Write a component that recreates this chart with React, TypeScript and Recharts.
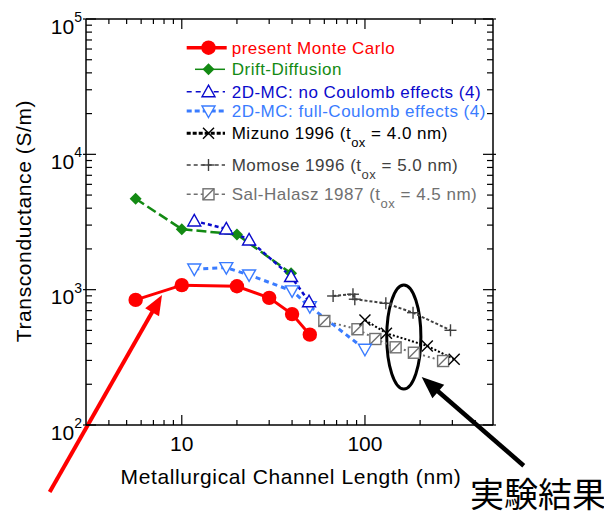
import React from 'react';
import { LineChart, Line, XAxis, YAxis, ReferenceLine, ReferenceArea, Customized } from 'recharts';

const FONT = '"Liberation Sans", Arial, Helvetica, sans-serif';

// ---- data (channel length in nm, transconductance in S/m) ----
const mcL = [5.6, 10, 20, 30, 40, 50];
const mcG = [840, 1080, 1060, 870, 660, 465];
const ddL = [5.6, 10, 20, 39.5];
const ddG = [4700, 2800, 2560, 1320];
const noCoulL = [11.7, 17.5, 23.3, 39.5, 49.5];
const noCoulG = [3220, 2810, 2330, 1250, 815];
const fullCoulL = [11.7, 17.5, 23.3, 40, 50, 100];
const fullCoulG = [1420, 1455, 1285, 980, 750, 363];
const mizunoL = [100, 131, 219, 307];
const mizunoG = [597, 476, 384, 306];
const momoseL = [67, 86, 88, 130, 183, 293];
const momoseG = [898, 925, 850, 793, 676, 501];
const salL = [60, 91, 114, 147, 185, 267];
const salG = [587, 510, 432, 375, 342, 297];

const seriesNames = [
  'present Monte Carlo',
  'Drift-Diffusion',
  '2D-MC: no Coulomb effects (4)',
  '2D-MC: full-Coulomb effects (4)',
  'Mizuno 1996 (t_ox = 4.0 nm)',
  'Momose 1996 (t_ox = 5.0 nm)',
  'Sal-Halasz 1987 (t_ox = 4.5 nm)',
];

// ---- ticks ----
const xTicks = [4, 5, 6, 7, 8, 9, 10, 20, 30, 40, 50, 60, 70, 80, 90, 100, 200, 300, 400];
const xMajor = [10, 100];
const xLabels = ['10', '100'];
const yTicks = [
  100, 200, 300, 400, 500, 600, 700, 800, 900,
  1000, 2000, 3000, 4000, 5000, 6000, 7000, 8000, 9000,
  10000, 20000, 30000, 40000, 50000, 60000, 70000, 80000, 90000, 100000,
];
const yMajor = [100, 1000, 10000, 100000];
const yExp = ['2', '3', '4', '5'];

const xTitle = 'Metallurgical Channel Length (nm)';
const yTitle = 'Transconductance (S/m)';
const noteText = '実験結果';

// annotation anchors in data coordinates
const redArrow = [{ x: 1.9, y: 32 }, { x: 7.8, y: 914 }];
const blackArrow = [{ x: 736, y: 50 }, { x: 204, y: 226 }];
const ellipseBox = { x1: 131.5, x2: 202, y1: 184.5, y2: 1083 };

const zip = (xs: number[], ys: number[]) => xs.map((x, i) => ({ x, y: ys[i] }));

type MK = 'circle' | 'diamond' | 'triUp' | 'triDown' | 'cross' | 'plus' | 'box';

function Marker({ kind, cx, cy, color }: { kind: MK; cx: number; cy: number; color: string }) {
  switch (kind) {
    case 'circle':
      return <circle cx={cx} cy={cy} r={7.2} fill={color} />;
    case 'diamond':
      return <polygon points={`${cx},${cy - 6} ${cx + 6},${cy} ${cx},${cy + 6} ${cx - 6},${cy}`} fill={color} />;
    case 'triUp':
      return <polygon points={`${cx},${cy - 6.5} ${cx + 6.5},${cy + 5} ${cx - 6.5},${cy + 5}`} fill="#fff" stroke={color} strokeWidth={1.4} />;
    case 'triDown':
      return <polygon points={`${cx},${cy + 6.5} ${cx + 6.5},${cy - 5} ${cx - 6.5},${cy - 5}`} fill="#fff" stroke={color} strokeWidth={1.4} />;
    case 'cross':
      return (
        <g stroke={color} strokeWidth={1.4}>
          <line x1={cx - 5.5} y1={cy - 5.5} x2={cx + 5.5} y2={cy + 5.5} />
          <line x1={cx - 5.5} y1={cy + 5.5} x2={cx + 5.5} y2={cy - 5.5} />
        </g>
      );
    case 'plus':
      return (
        <g stroke={color} strokeWidth={1.4}>
          <line x1={cx - 6} y1={cy} x2={cx + 6} y2={cy} />
          <line x1={cx} y1={cy - 6} x2={cx} y2={cy + 6} />
        </g>
      );
    case 'box':
    default:
      return (
        <g stroke={color} strokeWidth={1.4}>
          <rect x={cx - 5.5} y={cy - 5.5} width={11} height={11} fill="#fff" />
          <line x1={cx - 5.5} y1={cy + 5.5} x2={cx + 5.5} y2={cy - 5.5} />
        </g>
      );
  }
}

const series = [
  { key: 'sal', name: seriesNames[6], data: zip(salL, salG), color: '#707070', text: '#707070', w: 2, dash: '2 3', mk: 'box' as MK, lw: 1.5, ldash: '4 3' },
  { key: 'momose', name: seriesNames[5], data: zip(momoseL, momoseG), color: '#404040', text: '#404040', w: 2, dash: '3 2', mk: 'plus' as MK, lw: 1.5, ldash: '4 3' },
  { key: 'mizuno', name: seriesNames[4], data: zip(mizunoL, mizunoG), color: '#000000', text: '#000000', w: 2, dash: '2 2', mk: 'cross' as MK, lw: 3, ldash: '4 2' },
  { key: 'full', name: seriesNames[3], data: zip(fullCoulL, fullCoulG), color: '#3A7CFF', text: '#3A7CFF', w: 3, dash: '5 4', mk: 'triDown' as MK, lw: 3, ldash: '5 3' },
  { key: 'dd', name: seriesNames[1], data: zip(ddL, ddG), color: '#138A13', text: '#138A13', w: 2.5, dash: '10 4', mk: 'diamond' as MK, lw: 1.5, ldash: undefined },
  { key: 'no', name: seriesNames[2], data: zip(noCoulL, noCoulG), color: '#0A0ACC', text: '#0A0ACC', w: 2.5, dash: '4 3', mk: 'triUp' as MK, lw: 1.5, ldash: '5 4' },
  { key: 'mc', name: seriesNames[0], data: zip(mcL, mcG), color: '#FF0000', text: '#FF0000', w: 3, dash: undefined, mk: 'circle' as MK, lw: 3.5, ldash: undefined },
];

const legendOrder = ['mc', 'dd', 'no', 'full', 'mizuno', 'momose', 'sal'];
const legendRowY = [39.7, 61.3, 83.7, 103, 125.3, 157, 186.3];

function XTick(props: any) {
  const { x, y, payload, side } = props;
  const v = payload.value;
  const mi = xMajor.indexOf(v);
  const len = mi >= 0 ? 10 : 5;
  const dir = side === 'bottom' ? -1 : 1;
  return (
    <g>
      <line x1={x} x2={x} y1={y} y2={y + dir * len} stroke="#000" strokeWidth={1.2} />
      {side === 'bottom' && mi >= 0 && (
        <text x={x} y={y + 26} textAnchor="middle" fontSize={21} fontFamily={FONT} fill="#000">
          {xLabels[mi]}
        </text>
      )}
    </g>
  );
}

function YTick(props: any) {
  const { x, y, payload, side } = props;
  const v = payload.value;
  const mi = yMajor.indexOf(v);
  const len = mi >= 0 ? 10 : 6;
  const dir = side === 'left' ? 1 : -1;
  return (
    <g>
      <line x1={x - dir * (mi >= 0 ? 3 : 0)} x2={x + dir * len} y1={y} y2={y} stroke="#000" strokeWidth={1.2} />
      {side === 'left' && mi >= 0 && (
        <text x={x - 4} y={y + 14.5} textAnchor="end" fontSize={21} fontFamily={FONT} fill="#000">
          10
          <tspan fontSize={14} dy={-11.5}>{yExp[mi]}</tspan>
        </text>
      )}
    </g>
  );
}

function Arrow(props: any) {
  const { x1, y1, x2, y2, color, w, head, hw } = props;
  const dx = x2 - x1;
  const dy = y2 - y1;
  const L = Math.hypot(dx, dy) || 1;
  const ux = dx / L;
  const uy = dy / L;
  const bx = x2 - ux * head;
  const by = y2 - uy * head;
  const px = -uy;
  const py = ux;
  return (
    <g>
      <line x1={x1} y1={y1} x2={bx + ux * 2} y2={by + uy * 2} stroke={color} strokeWidth={w} />
      <polygon points={`${x2},${y2} ${bx + px * hw},${by + py * hw} ${bx - px * hw},${by - py * hw}`} fill={color} />
    </g>
  );
}

function LegendText({ name, x, y, color }: { name: string; x: number; y: number; color: string }) {
  const parts = name.split('_ox');
  return (
    <text x={x} y={y} fontSize={17} letterSpacing={0.5} fontFamily={FONT} fill={color}>
      {parts[0]}
      {parts.length > 1 && (
        <>
          <tspan fontSize={13} dy={8}>ox</tspan>
          <tspan dy={-8}>{parts[1]}</tspan>
        </>
      )}
    </text>
  );
}

function Overlay() {
  const rows = legendOrder.map((k) => series.find((s) => s.key === k)!);
  return (
    <g>
      {rows.map((s, i) => {
        const yy = legendRowY[i];
        const x1 = s.key === 'dd' ? 187 : 178.7;
        const x2 = s.key === 'mc' ? 218.7 : 217;
        return (
          <g key={s.key}>
            <line x1={x1} x2={x2} y1={yy} y2={yy} stroke={s.color} strokeWidth={s.lw} strokeDasharray={s.ldash} />
            <Marker kind={s.mk} cx={200.5} cy={yy} color={s.color} />
            <LegendText name={s.name} x={223.7} y={yy + 6} color={s.text} />
          </g>
        );
      })}
      <text x={283} y={476} textAnchor="middle" fontSize={21} letterSpacing={0.6} fontFamily={FONT} fill="#000">
        {xTitle}
      </text>
      <text
        x={0}
        y={0}
        transform="translate(22.5,213) rotate(-90)"
        textAnchor="middle"
        fontSize={21}
        letterSpacing={0.6}
        fontFamily={FONT}
        fill="#000"
      >
        {yTitle}
      </text>
      <text x={462} y={499} fontSize={34} fontFamily='"Noto Sans CJK JP", sans-serif' fill="#000">
        {noteText}
      </text>
    </g>
  );
}

export default function App() {
  return (
    <LineChart width={604} height={508} margin={{ top: 10, right: 118, bottom: 51, left: 18 }}>
      <XAxis
        xAxisId="b"
        dataKey="x"
        type="number"
        scale="log"
        domain={[3, 500]}
        allowDataOverflow
        ticks={xTicks}
        interval={0}
        tickSize={0}
        tickMargin={0}
        tickLine={false}
        tick={(p: any) => <XTick {...p} side="bottom" />}
        axisLine={{ stroke: '#000', strokeWidth: 1.5 }}
        height={40}
        orientation="bottom"
      />
      <XAxis
        xAxisId="t"
        dataKey="x"
        type="number"
        scale="log"
        domain={[3, 500]}
        allowDataOverflow
        ticks={xTicks}
        interval={0}
        tickSize={0}
        tickMargin={0}
        tickLine={false}
        tick={(p: any) => <XTick {...p} side="top" />}
        axisLine={{ stroke: '#000', strokeWidth: 1.5 }}
        height={1}
        orientation="top"
      />
      <YAxis
        yAxisId="l"
        type="number"
        scale="log"
        domain={[100, 100000]}
        allowDataOverflow
        ticks={yTicks}
        interval={0}
        tickSize={0}
        tickMargin={0}
        tickLine={false}
        tick={(p: any) => <YTick {...p} side="left" />}
        axisLine={{ stroke: '#000', strokeWidth: 1.5 }}
        width={60}
        orientation="left"
      />
      <YAxis
        yAxisId="r"
        type="number"
        scale="log"
        domain={[100, 100000]}
        allowDataOverflow
        ticks={yTicks}
        interval={0}
        tickSize={0}
        tickMargin={0}
        tickLine={false}
        tick={(p: any) => <YTick {...p} side="right" />}
        axisLine={{ stroke: '#000', strokeWidth: 1.5 }}
        width={1}
        orientation="right"
      />
      <ReferenceArea
        xAxisId="b"
        yAxisId="l"
        x1={ellipseBox.x1}
        x2={ellipseBox.x2}
        y1={ellipseBox.y1}
        y2={ellipseBox.y2}
        ifOverflow="visible"
        shape={(p: any) => (
          <ellipse cx={p.x + p.width / 2} cy={p.y + p.height / 2} rx={p.width / 2} ry={p.height / 2} fill="none" stroke="#000" strokeWidth={3} />
        )}
      />
      {series.map((s) => (
        <Line
          key={s.key}
          xAxisId="b"
          yAxisId="l"
          data={s.data}
          dataKey="y"
          name={s.name}
          stroke={s.color}
          strokeWidth={s.w}
          strokeDasharray={s.dash}
          isAnimationActive={false}
          activeDot={false}
          dot={(p: any) => (
            <g key={`${s.key}-${p.index}`}>
              <Marker kind={s.mk} cx={p.cx} cy={p.cy} color={s.color} />
            </g>
          )}
        />
      ))}
      <ReferenceLine
        xAxisId="b"
        yAxisId="l"
        segment={redArrow}
        ifOverflow="visible"
        shape={(p: any) => <Arrow {...p} color="#FF0000" w={4} head={20} hw={8} />}
      />
      <ReferenceLine
        xAxisId="b"
        yAxisId="l"
        segment={blackArrow}
        ifOverflow="visible"
        shape={(p: any) => <Arrow {...p} color="#000000" w={4.5} head={22} hw={9} />}
      />
      <Customized component={Overlay} />
    </LineChart>
  );
}
